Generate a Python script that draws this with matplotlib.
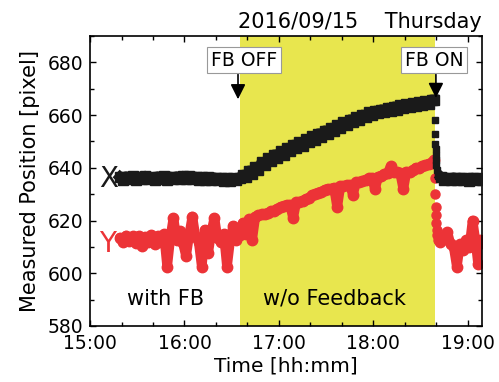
import matplotlib.pyplot as plt
from matplotlib.ticker import FixedLocator, MultipleLocator

# time in minutes after 15:00, positions in pixel
x_pre_t = [19, 21, 23, 25, 27, 29, 31, 33, 35, 37, 39, 41, 43, 45, 47, 49, 51, 53, 55, 57,
           59, 61, 63, 65, 67, 69, 71, 73, 75, 77, 79, 81, 83, 85, 87, 89, 91, 93, 95,
           97, 99, 101, 103, 105, 107, 109, 111, 113, 115, 117, 119, 121, 123, 125, 127,
           129, 131, 133, 135, 137, 139, 141, 143, 145, 147, 149, 151, 153, 155, 157, 159,
           161, 163, 165, 167, 169, 171, 173, 175, 177, 179, 181, 183, 185, 187, 189, 191,
           193, 195, 197, 199, 201, 203, 205, 207, 209, 211, 213, 215, 217, 218.5]
x_pre_v = [636.5, 635.4, 636.7, 635.6, 636.8, 635.5, 636.6, 635.7, 636.9, 635.6, 636.5, 635.4,
           636.7, 635.7, 636.8, 635.5, 636.6, 635.6, 636.7, 635.7, 636.9, 635.8, 636.8, 635.6,
           636.6, 635.5, 636.5, 635.4, 636.4, 635.3, 636.3, 635.2, 636.2, 635.1, 636.1, 635.0,
           636.0, 635.2, 636.2,
           637.3, 636.5, 638.9, 637.8, 640.3, 639.3, 642.1, 640.9, 643.6, 642.4, 645.0, 643.8,
           646.2, 645.0, 647.5, 646.3, 648.7, 647.5, 649.6, 648.4, 650.8, 649.6, 651.9, 650.7,
           653.0, 651.8, 654.1, 652.9, 655.1, 654.0, 656.2, 655.2, 657.3, 656.4, 658.3, 657.4,
           659.2, 658.3, 660.1, 659.2, 661.0, 660.2, 661.6, 660.6, 662.1, 661.1, 662.7, 661.6,
           663.2, 662.1, 663.7, 662.5, 664.1, 663.0, 664.5, 663.4, 664.9, 663.8, 665.3, 664.3,
           665.8, 665.8]
x_drop_t = [219.0, 219.2, 219.4, 219.5, 219.6, 219.8, 220.0, 220.4, 220.8, 221.3, 222.0]
x_drop_v = [658.0, 653.0, 649.0, 647.0, 645.0, 643.0, 641.0, 639.0, 637.8, 637.0, 636.4]
x_post_t = [223, 225, 227, 229, 231, 233, 235, 237, 239, 241, 243, 245, 247, 249]
x_post_v = [636.4, 635.3, 636.2, 635.2, 636.3, 635.3, 636.2, 635.2, 636.1, 635.1, 636.2,
            635.2, 636.1, 635.5]

y_pre_t = x_pre_t
y_pre_v = [613.5, 612.0, 614.3, 612.2, 614.0, 611.6, 614.1, 610.5, 613.8, 611.8, 614.6, 611.0,
           614.0, 612.0, 614.8, 602.5, 613.5, 621.0, 612.8, 616.0, 611.5, 606.5, 614.5, 621.5,
           613.8, 612.0, 602.5, 616.5, 607.5, 615.5, 621.0, 613.2, 612.0, 614.8, 602.5, 612.5,
           618.0, 612.8, 614.5,
           619.0, 615.0, 620.5, 612.8, 621.5, 622.0, 622.3, 622.4, 622.8, 623.5, 623.8, 624.5,
           625.2, 625.5, 625.8, 626.0, 621.0, 626.9, 627.0, 627.6, 628.1, 628.6, 629.6, 630.0,
           630.6, 631.0, 631.6, 632.0, 632.0, 632.4, 625.0, 633.0, 633.0, 633.4, 633.5, 629.8,
           634.5, 634.5, 635.0, 635.5, 636.0, 636.0, 632.0, 636.5, 637.0, 637.5, 638.0, 640.5,
           638.5, 638.5, 638.0, 632.0, 638.5, 638.5, 639.0, 640.0, 640.0, 640.5, 641.0, 641.5,
           642.0, 643.0]
y_drop_t = [219.0, 219.3, 219.6, 219.8, 220.0, 220.2, 220.5, 221.0]
y_drop_v = [636.0, 630.0, 625.0, 622.0, 619.0, 616.5, 614.5, 612.5]
y_post_t = [222, 223, 225, 227, 229, 231, 233, 235, 237, 239, 241, 243, 245, 246.5, 248, 249]
y_post_v = [612.0, 612.5, 613.0, 615.5, 611.0, 610.0, 602.5, 611.0, 609.0, 612.5, 610.0,
            620.0, 611.5, 603.5, 612.5, 611.5]

hour_ticks = [0, 60, 120, 180, 240]
hour_labels = ['15:00', '16:00', '17:00', '18:00', '19:00']
fb_off = 95.3
fb_on = 219.0

black = '#1a1a1a'
red = '#ec3337'
yellow = '#e8e64e'

fig = plt.figure(figsize=(4.99, 3.82), dpi=100)
ax = fig.add_axes([0.1804, 0.1466, 0.7856, 0.7592])

ax.axvspan(fb_off, fb_on, color=yellow, lw=0, zorder=0)

for t, v in [(y_pre_t, y_pre_v), (y_post_t, y_post_v)]:
    ax.plot(t, v, color=red, lw=7, solid_joinstyle='round', solid_capstyle='round',
            marker='o', ms=7.5, zorder=2)
ax.plot(y_drop_t, y_drop_v, ls='none', color=red, marker='o', ms=6.5, zorder=2)

for t, v in [(x_pre_t, x_pre_v), (x_post_t, x_post_v)]:
    ax.plot(t, v, color=black, lw=7.5, marker='s', ms=6.5, zorder=3)
ax.plot(x_drop_t, x_drop_v, ls='none', color=black, marker='s', ms=4.8, zorder=3)

ax.set_xlim(0, 249)
ax.set_ylim(580, 690)
ax.xaxis.set_major_locator(FixedLocator(hour_ticks))
ax.set_xticklabels(hour_labels)
ax.xaxis.set_minor_locator(MultipleLocator(20))
ax.yaxis.set_major_locator(FixedLocator([580, 600, 620, 640, 660, 680]))
ax.yaxis.set_minor_locator(MultipleLocator(10))
ax.tick_params(which='both', direction='in', top=True, right=True, width=1, labelsize=13.5)
ax.tick_params(which='major', length=4.5)
ax.tick_params(which='minor', length=3)
ax.tick_params(axis='x', pad=6)
ax.tick_params(axis='y', pad=5)
for s in ax.spines.values():
    s.set_linewidth(1.2)

ax.set_xlabel('Time [hh:mm]', fontsize=14.5, labelpad=2)
ax.set_ylabel('Measured Position [pixel]', fontsize=15, labelpad=5)
ax.set_title('2016/09/15    Thursday', loc='right', fontsize=15, pad=6)

ax.text(12, 632.8, 'X', color=black, fontsize=20, ha='center', va='baseline')
ax.text(11, 608, 'Y', color=red, fontsize=20, ha='center', va='baseline')
ax.text(23.5, 587.8, 'with FB', fontsize=15, ha='left', va='baseline')
ax.text(110, 588.3, 'w/o Feedback', fontsize=15, ha='left', va='baseline')

box = dict(boxstyle='square,pad=0.2', fc='white', ec='#999999', lw=0.8)
ax.text(97.8, 680.8, 'FB OFF', fontsize=13.5, ha='center', va='center', bbox=box, zorder=5)
ax.text(218.5, 680.8, 'FB ON', fontsize=13.5, ha='center', va='center', bbox=box, zorder=5)
arrow = dict(arrowstyle='-|>,head_length=0.6,head_width=0.3', color='k', lw=1.2,
             mutation_scale=15, shrinkA=0, shrinkB=0)
ax.annotate('', xy=(94, 666), xytext=(94, 675.4), arrowprops=arrow, zorder=4)
ax.annotate('', xy=(219.7, 666.5), xytext=(219.7, 675.4), arrowprops=arrow, zorder=4)

fig.savefig('out.png', dpi=100)
